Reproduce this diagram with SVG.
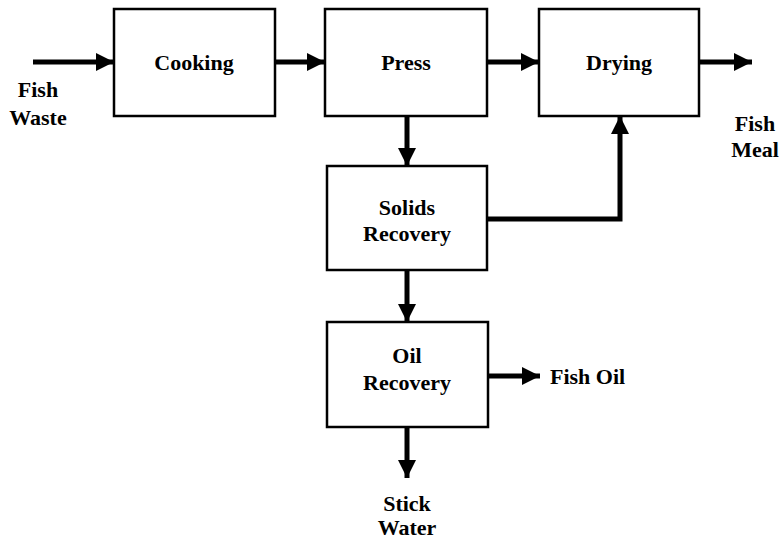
<svg xmlns="http://www.w3.org/2000/svg" width="781" height="541" viewBox="0 0 781 541">
<style>
.box{fill:#fff;stroke:#000;stroke-width:2.5}
.t{font-family:'Liberation Serif','Times New Roman','DejaVu Serif',serif;font-weight:bold;font-size:22px;text-anchor:middle;fill:#000}
.l{font-family:'Liberation Serif','Times New Roman','DejaVu Serif',serif;font-weight:bold;font-size:22px;fill:#000}
.c{fill:none;stroke:#000;stroke-width:5}
</style>
<defs>
<marker id="a" markerUnits="userSpaceOnUse" markerWidth="18" markerHeight="20" viewBox="0 0 18 20" refX="18" refY="10" orient="auto">
<path d="M0,1 L18,10 L0,19 Z" fill="#000"/>
</marker>
</defs>
<rect width="781" height="541" fill="#fff"/>
<g id="connectors">
<path class="c" d="M33,62 H114" marker-end="url(#a)"/>
<path class="c" d="M275,62 H325" marker-end="url(#a)"/>
<path class="c" d="M487,62 H539" marker-end="url(#a)"/>
<path class="c" d="M699,62 H752" marker-end="url(#a)"/>
<path class="c" d="M407,116 V166" marker-end="url(#a)"/>
<path class="c" d="M487,219 H620 V116" marker-end="url(#a)"/>
<path class="c" d="M407,270 V322" marker-end="url(#a)"/>
<path class="c" d="M488,376 H540" marker-end="url(#a)"/>
<path class="c" d="M407,427 V478" marker-end="url(#a)"/>
</g>
<g id="cooking"><rect class="box" x="114" y="9" width="161" height="107"/><text class="t" x="194" y="70">Cooking</text></g>
<g id="press"><rect class="box" x="325" y="9" width="162" height="107"/><text class="t" x="406" y="70">Press</text></g>
<g id="drying"><rect class="box" x="539" y="9" width="160" height="107"/><text class="t" x="619" y="70">Drying</text></g>
<g id="solids"><rect class="box" x="327" y="166" width="160" height="104"/><text class="t" x="407" y="215">Solids</text><text class="t" x="407" y="241">Recovery</text></g>
<g id="oil"><rect class="box" x="327" y="322" width="161" height="105"/><text class="t" x="407" y="363">Oil</text><text class="t" x="407" y="390">Recovery</text></g>
<g id="fishwaste"><text class="t" x="38" y="97">Fish</text><text class="t" x="38" y="125">Waste</text></g>
<g id="fishmeal"><text class="t" x="755" y="131">Fish</text><text class="t" x="755" y="157">Meal</text></g>
<g id="fishoil"><text class="l" x="550" y="384">Fish Oil</text></g>
<g id="stickwater"><text class="t" x="407" y="511">Stick</text><text class="t" x="407" y="535">Water</text></g>
</svg>
